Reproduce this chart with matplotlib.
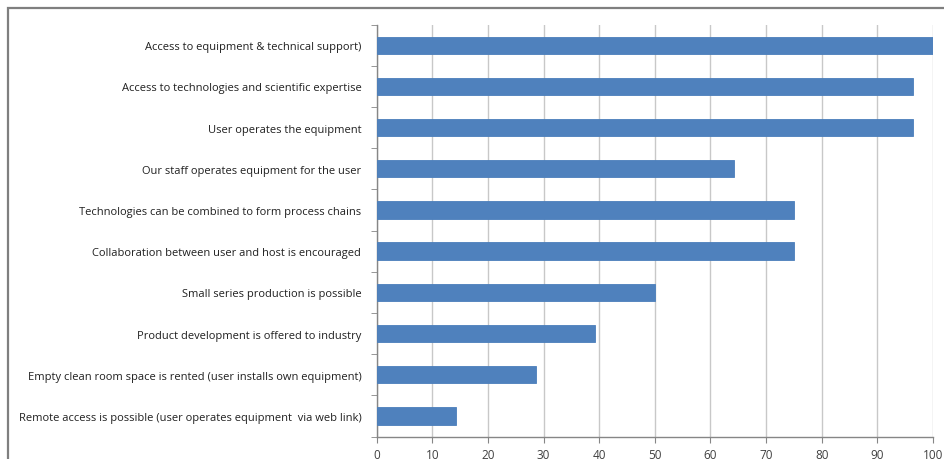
import matplotlib
matplotlib.use("Agg")
import matplotlib.pyplot as plt
from matplotlib.patches import Rectangle
import numpy as np

categories = [
    "Access to equipment & technical support)",
    "Access to technologies and scientific expertise",
    "User operates the equipment",
    "Our staff operates equipment for the user",
    "Technologies can be combined to form process chains",
    "Collaboration between user and host is encouraged",
    "Small series production is possible",
    "Product development is offered to industry",
    "Empty clean room space is rented (user installs own equipment)",
    "Remote access is possible (user operates equipment  via web link)",
]
values = [100, 96.4, 96.4, 64.3, 75.0, 75.0, 50.0, 39.3, 28.6, 14.3]
xticks = [0, 10, 20, 30, 40, 50, 60, 70, 80, 90, 100]

plt.rcParams['font.family'] = ['Open Sans', 'DejaVu Sans']

fig = plt.figure(figsize=(9.44, 4.6), dpi=100)
ax = fig.add_axes([376.6/944, 1-437.5/460, (933-376.6)/944, (437.5-25.6)/460])

n = len(categories)
y = np.arange(n)[::-1]
ax.barh(y, values, height=0.42, color='#4F81BD', edgecolor='#4A7EBB', linewidth=0.6, zorder=3)

ax.set_xlim(0, 100)
ax.set_ylim(-0.5, n - 0.5)
ax.set_xticks(xticks)
ax.set_xticklabels([str(t) for t in xticks], fontsize=8.5, color='#404040')
ax.set_yticks(y)
ax.set_yticklabels(categories, fontsize=8, color='#202020')
ax.set_yticks(np.arange(-0.5, n, 1), minor=True)
ax.tick_params(axis='y', which='major', length=0, pad=11)
ax.tick_params(axis='y', which='minor', length=4, color='#868686', direction='out')
ax.tick_params(axis='x', which='major', length=4, color='#868686', direction='out', pad=4)

ax.grid(axis='x', color='#C8C8C8', linewidth=1.0, zorder=0)
for s in ['top', 'right']:
    ax.spines[s].set_visible(False)
for s in ['left', 'bottom']:
    ax.spines[s].set_color('#868686')
    ax.spines[s].set_linewidth(1.0)

border = Rectangle((8/944, -0.1), 1.2, 1.1 - 9/460 + 0.0, transform=fig.transFigure,
                   fill=False, edgecolor='#7F7F7F', linewidth=1.6, clip_on=False)
fig.patches.append(border)

fig.savefig("out.png", dpi=100)
